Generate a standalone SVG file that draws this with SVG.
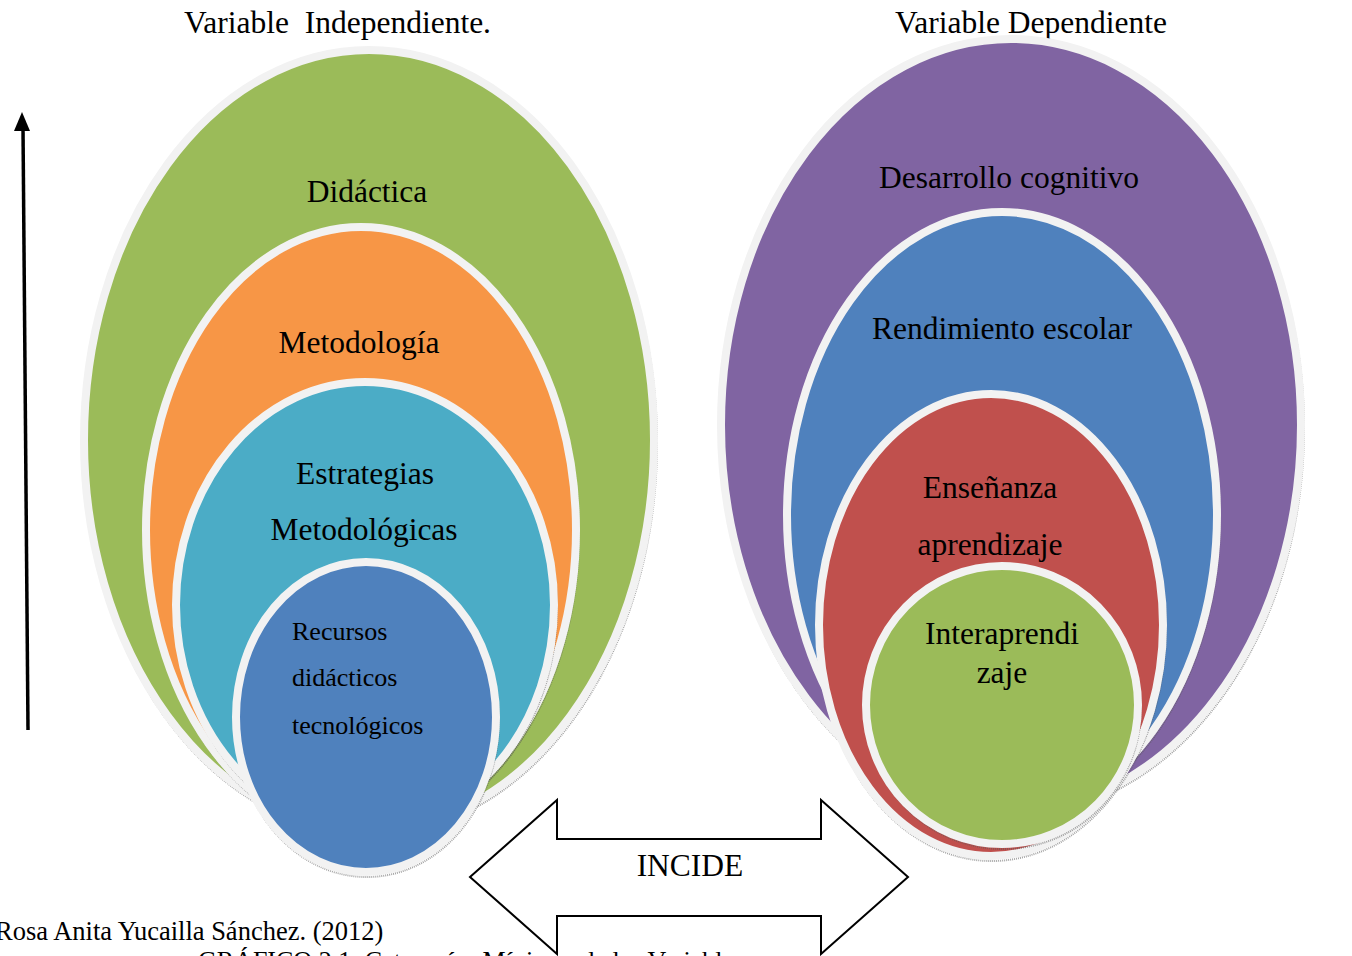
<svg xmlns="http://www.w3.org/2000/svg" width="1352" height="956" viewBox="0 0 1352 956">
<style>
.t{font-family:"Liberation Serif","Times New Roman",serif;font-size:31.5px;fill:#000}
.s{font-family:"Liberation Serif","Times New Roman",serif;font-size:26px;fill:#000}
.e{stroke:#F2F2F2;stroke-width:8}
.sh{fill:none;stroke:#5a5a5a;stroke-width:2;stroke-dasharray:1 1;opacity:0.55}
</style>
<rect width="1352" height="956" fill="#fff"/>
<text class="t" x="184" y="33" xml:space="preserve" style="white-space:pre">Variable  Independiente.</text>
<text class="t" x="895" y="33">Variable Dependiente</text>

<g id="left-didactica">
<ellipse class="sh" cx="370" cy="443" rx="287" ry="392"/>
<ellipse class="e" cx="369" cy="440" rx="285" ry="390" fill="#9BBB59"/>
<text class="t" x="367" y="202" text-anchor="middle">Didáctica</text>
</g>
<g id="left-metodologia">
<ellipse class="sh" cx="362" cy="533" rx="217" ry="305"/>
<ellipse class="e" cx="361" cy="530" rx="215" ry="303" fill="#F79646"/>
<text class="t" x="359" y="353" text-anchor="middle">Metodología</text>
</g>
<g id="left-estrategias">
<ellipse class="sh" cx="366" cy="608" rx="191" ry="225"/>
<ellipse class="e" cx="365" cy="605" rx="189" ry="223" fill="#4BACC6"/>
<text class="t" x="365" y="484" text-anchor="middle">Estrategias</text>
<text class="t" x="364" y="540" text-anchor="middle">Metodológicas</text>
</g>
<g id="left-recursos">
<ellipse class="sh" cx="367" cy="720" rx="132" ry="157"/>
<ellipse class="e" cx="366" cy="717" rx="130" ry="155" fill="#4F81BD"/>
<text class="s" x="292" y="640">Recursos</text>
<text class="s" x="292" y="686">didácticos</text>
<text class="s" x="292" y="734">tecnológicos</text>
</g>

<g id="right-desarrollo">
<ellipse class="sh" cx="1012" cy="428" rx="292" ry="388"/>
<ellipse class="e" cx="1011" cy="425" rx="290" ry="386" fill="#8064A2"/>
<text class="t" x="1009" y="188" text-anchor="middle">Desarrollo cognitivo</text>
</g>
<g id="right-rendimiento">
<ellipse class="sh" cx="1003" cy="518" rx="217" ry="305"/>
<ellipse class="e" cx="1002" cy="515" rx="215" ry="303" fill="#4F81BD"/>
<text class="t" x="1002" y="339" text-anchor="middle">Rendimiento escolar</text>
</g>
<g id="right-ensenanza">
<ellipse class="sh" cx="992" cy="628" rx="174" ry="233"/>
<ellipse class="e" cx="991" cy="625" rx="172" ry="231" fill="#C0504D"/>
<text class="t" x="990" y="498" text-anchor="middle">Enseñanza</text>
<text class="t" x="990" y="555" text-anchor="middle">aprendizaje</text>
</g>
<g id="right-interaprendizaje">
<ellipse class="sh" cx="1003" cy="708" rx="138" ry="141"/>
<ellipse class="e" cx="1002" cy="705" rx="136" ry="139" fill="#9BBB59"/>
<text class="t" x="1002" y="644" text-anchor="middle">Interaprendi</text>
<text class="t" x="1002" y="683" text-anchor="middle">zaje</text>
</g>

<g id="connectors">
<line x1="28" y1="730" x2="23" y2="128" stroke="#000" stroke-width="3.5"/>
<polygon points="22,112 14,131 30,131" fill="#000"/>
</g>

<g id="incide">
<polygon points="470,877 557,800 557,839 821,839 821,800 908,877 821,954 821,916 557,916 557,954" fill="#fff" stroke="#000" stroke-width="2"/>
<text class="t" x="690" y="876" text-anchor="middle">INCIDE</text>
</g>

<text class="s" x="-5" y="940" style="font-size:26.5px">Rosa Anita Yucailla Sánchez. (2012)</text>
<text class="s" x="198" y="969">GRÁFICO 2.1: Categorías Mínimas de las Variables</text>
</svg>
